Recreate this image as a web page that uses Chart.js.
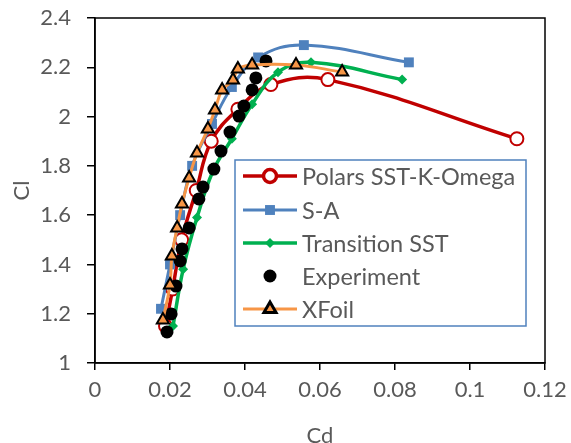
<!DOCTYPE html>
<html>
<head>
<meta charset="utf-8">
<script src="https://cdn.jsdelivr.net/npm/chart.js@4/dist/chart.umd.min.js"></script>
<style>
  html, body { margin: 0; padding: 0; background: #ffffff; }
  #wrap { width: 571px; height: 443px; position: relative; }
</style>
</head>
<body>
<div id="wrap"><canvas id="c" width="571" height="443"></canvas></div>
<script>
// Lift coefficient (Cl) against drag coefficient (Cd) for each method
const polarsCd = [0.0188, 0.0207, 0.0231, 0.0270, 0.0310, 0.0381, 0.0469, 0.0621, 0.1125];
const polarsCl = [1.15, 1.30, 1.50, 1.70, 1.90, 2.03, 2.13, 2.15, 1.91];

const saCd = [0.0176, 0.0200, 0.0227, 0.0259, 0.0312, 0.0365, 0.0435, 0.0557, 0.0837];
const saCl = [1.22, 1.40, 1.60, 1.80, 1.97, 2.12, 2.24, 2.29, 2.22];

const transCd = [0.0208, 0.0235, 0.0272, 0.0315, 0.0365, 0.0419, 0.0488, 0.0576, 0.0819];
const transCl = [1.15, 1.38, 1.59, 1.78, 1.91, 2.05, 2.18, 2.22, 2.15];

const expCd = [0.0192, 0.0203, 0.0216, 0.0227, 0.0232, 0.0251, 0.0277, 0.0288, 0.0317,
               0.0336, 0.0360, 0.0384, 0.0397, 0.0419, 0.0429, 0.0456];
const expCl = [1.126, 1.199, 1.312, 1.414, 1.463, 1.548, 1.666, 1.714, 1.787,
               1.860, 1.937, 2.002, 2.043, 2.108, 2.157, 2.226];

const xfoilCd = [0.0181, 0.0200, 0.0205, 0.0219, 0.0232, 0.0251, 0.0272, 0.0301, 0.0320,
                 0.0339, 0.0368, 0.0381, 0.0419, 0.0536, 0.0659];
const xfoilCl = [1.175, 1.317, 1.434, 1.548, 1.645, 1.751, 1.852, 1.950, 2.027,
                 2.108, 2.148, 2.193, 2.209, 2.209, 2.181];

const seriesNames = ['Polars SST-K-Omega', 'S-A', 'Transition SST', 'Experiment', 'XFoil'];
const xTicks = [0, 0.02, 0.04, 0.06, 0.08, 0.1, 0.12];
const yTicks = [1, 1.2, 1.4, 1.6, 1.8, 2, 2.2, 2.4];

const pts = (xs, ys) => xs.map((x, i) => ({ x: x, y: ys[i] }));

const FONT = 'Lato, "Open Sans", "DejaVu Sans", sans-serif';
const TEXT = '#595959';

// Black frame around the plot area
const framePlugin = {
  id: 'frame',
  afterDatasetsDraw(chart) {
    const { ctx, chartArea: a } = chart;
    ctx.save();
    ctx.strokeStyle = '#000000';
    ctx.lineWidth = 1.5;
    ctx.strokeRect(a.left, a.top, a.right - a.left, a.bottom - a.top);
    ctx.restore();
  }
};

// Boxed legend sitting inside the plot area
const boxLegend = {
  id: 'boxLegend',
  afterDraw(chart) {
    const { ctx } = chart;
    const bx = 235, by = 160, bw = 291, bh = 166;
    ctx.save();
    ctx.fillStyle = '#ffffff';
    ctx.fillRect(bx, by, bw, bh);
    ctx.strokeStyle = '#4F81BD';
    ctx.lineWidth = 1.5;
    ctx.strokeRect(bx, by, bw, bh);
    const rows = [176, 210, 243, 276, 309];
    rows.forEach((y, di) => {
      const ds = chart.data.datasets[di];
      if (ds.showLine !== false) {
        ctx.strokeStyle = ds.borderColor;
        ctx.lineWidth = ds.borderWidth;
        ctx.beginPath();
        ctx.moveTo(243, y);
        ctx.lineTo(297, y);
        ctx.stroke();
      }
      ctx.fillStyle = ds.pointBackgroundColor;
      ctx.strokeStyle = ds.pointBorderColor;
      Chart.helpers.drawPoint(ctx, {
        pointStyle: ds.pointStyle,
        radius: ds.pointRadius,
        borderWidth: ds.pointBorderWidth,
        rotation: 0
      }, 270, y);
      ctx.fillStyle = TEXT;
      ctx.font = '23.5px ' + FONT;
      ctx.textBaseline = 'middle';
      ctx.textAlign = 'left';
      ctx.fillText(seriesNames[di], 302, y + 1);
    });
    ctx.restore();
  }
};

new Chart(document.getElementById('c'), {
  type: 'scatter',
  data: {
    datasets: [
      {
        label: seriesNames[0], data: pts(polarsCd, polarsCl), showLine: true,
        borderColor: '#C00000', borderWidth: 3.5, tension: 0.4,
        pointStyle: 'circle', pointRadius: 6.5, pointBorderWidth: 2,
        pointBackgroundColor: '#ffffff', pointBorderColor: '#C00000', order: 5
      },
      {
        label: seriesNames[1], data: pts(saCd, saCl), showLine: true,
        borderColor: '#4F81BD', borderWidth: 3, tension: 0.4,
        pointStyle: 'rect', pointRadius: 7, pointBorderWidth: 0,
        pointBackgroundColor: '#4F81BD', pointBorderColor: '#4F81BD', order: 4
      },
      {
        label: seriesNames[2], data: pts(transCd, transCl), showLine: true,
        borderColor: '#00B050', borderWidth: 3.5, tension: 0.4,
        pointStyle: 'rectRot', pointRadius: 5, pointBorderWidth: 0,
        pointBackgroundColor: '#00B050', pointBorderColor: '#00B050', order: 3
      },
      {
        label: seriesNames[3], data: pts(expCd, expCl), showLine: false,
        borderColor: '#000000', borderWidth: 0,
        pointStyle: 'circle', pointRadius: 6.5, pointBorderWidth: 0,
        pointBackgroundColor: '#000000', pointBorderColor: '#000000', order: 2
      },
      {
        label: seriesNames[4], data: pts(xfoilCd, xfoilCl), showLine: true,
        borderColor: '#F79646', borderWidth: 3, tension: 0.4,
        pointStyle: 'triangle', pointRadius: 7, pointBorderWidth: 2,
        pointBackgroundColor: '#F79646', pointBorderColor: '#000000', order: 1
      }
    ]
  },
  options: {
    responsive: false,
    animation: false,
    devicePixelRatio: 1,
    layout: { padding: { left: 0, right: 26, top: 18, bottom: 0 } },
    plugins: { legend: { display: false }, tooltip: { enabled: false } },
    scales: {
      x: {
        type: 'linear', min: 0, max: 0.12,
        afterBuildTicks: (s) => { s.ticks = xTicks.map(v => ({ value: v })); },
        afterFit: (s) => { s.height = 80; s.paddingLeft = 0; s.paddingRight = 0; },
        grid: { drawOnChartArea: false, drawTicks: true, tickLength: 7, color: '#000000', lineWidth: 1.5 },
        border: { color: '#000000', width: 1.5 },
        ticks: { color: TEXT, font: { family: FONT, size: 22 }, padding: 7, callback: (v) => String(+v.toFixed(2)) },
        title: { display: true, text: 'Cd', color: TEXT, font: { family: FONT, size: 22 }, padding: { top: 0, bottom: -6 } }
      },
      y: {
        type: 'linear', min: 1, max: 2.4,
        afterBuildTicks: (s) => { s.ticks = yTicks.map(v => ({ value: v })); },
        afterFit: (s) => { s.width = 95; s.paddingTop = 0; s.paddingBottom = 0; },
        grid: { drawOnChartArea: false, drawTicks: true, tickLength: 8, color: '#000000', lineWidth: 1.5 },
        border: { color: '#000000', width: 1.5 },
        ticks: { color: TEXT, font: { family: FONT, size: 22 }, padding: 16, callback: (v) => String(+v.toFixed(1)) },
        title: { display: true, text: 'Cl', color: TEXT, font: { family: FONT, size: 22 }, padding: { top: 9, bottom: 0 } }
      }
    }
  },
  plugins: [framePlugin, boxLegend]
});
</script>
</body>
</html>
